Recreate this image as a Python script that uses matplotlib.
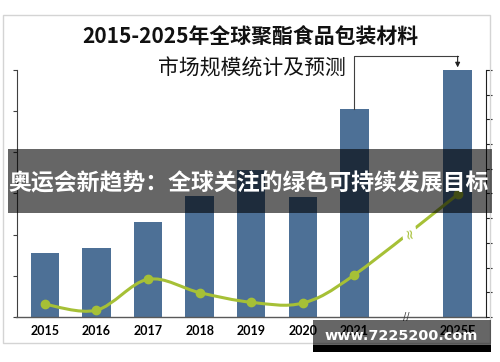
import matplotlib
matplotlib.use('agg')
import matplotlib.pyplot as plt
import numpy as np
from matplotlib.path import Path
from matplotlib.patches import PathPatch, Rectangle

plt.rcParams['font.family'] = ['Noto Sans CJK SC', 'DejaVu Sans']

# Data (axes carry no value labels)
years = ['2015', '2016', '2017', '2018', '2019', '2020', '2021', '2025E']
market = [1.56, 1.67, 2.30, 2.93, 3.58, 2.92, 5.06, 5.99]    # bars, left axis 0-6
growth = [0.52, 0.28, 1.53, 0.99, 0.60, 0.57, 1.71, 4.96]    # line, right axis 0-10

title_1 = '2015-2025年全球聚酯食品包装材料'
title_2 = '市场规模统计及预测'
banner = '奥运会新趋势：全球关注的绿色可持续发展目标'
watermark = 'www.7225200.com'

BAR_COLOR = '#4d7096'
LINE_COLOR = '#a6c036'

# one empty slot before the forecast year (axis break)
xpos = np.arange(len(years), dtype=float)
xpos[-1] += 1

fig = plt.figure(figsize=(5, 3.62), dpi=100)
ax = fig.add_axes([0.033, 0.124, 0.938, 0.683])

ax.bar(xpos, market, width=0.55, color=BAR_COLOR, zorder=2)
ax.set_xlim(-0.55, 8.54)
ax.set_ylim(0, 6)
ax.set_yticks(range(7))
ax.set_yticklabels([])
ax.set_xticks(xpos)
ax.set_xticklabels(years, fontfamily='Lato', fontweight='bold', fontsize=9)
ax.tick_params(axis='x', length=0, pad=6)
ax.tick_params(axis='y', length=3, width=0.8, color='#404040')
for s in ['top', 'right']:
    ax.spines[s].set_visible(False)
ax.spines['left'].set_color('#404040')
ax.spines['bottom'].set_color('#595959')
ax.spines['bottom'].set_linewidth(1.0)

# axis break marks
ax.text(7, 0, '//', ha='center', va='center', fontsize=7, color='#404040',
        fontfamily='DejaVu Sans', clip_on=False, zorder=5)

# arrow from 2021 to 2025
y_top = 6.33
ax.plot([xpos[6], xpos[6], xpos[7]], [market[6], y_top, y_top],
        color='#404040', lw=0.8, clip_on=False, zorder=3)
ax.annotate('', xy=(xpos[7], market[7] + 0.07), xytext=(xpos[7], y_top),
            arrowprops=dict(arrowstyle='-|>', color='#202020', lw=0.8,
                            mutation_scale=7, shrinkA=0, shrinkB=0),
            annotation_clip=False)

# growth line on right axis, smoothed with bezier segments
ax2 = ax.twinx()
ax2.set_ylim(0, 10)
ax2.set_yticks(range(11))
ax2.set_yticklabels([])
ax2.tick_params(axis='y', length=4, width=0.8, color='#202020')
for s in ['top', 'left', 'bottom']:
    ax2.spines[s].set_visible(False)
ax2.spines['right'].set_color('#202020')

pts = np.column_stack([xpos, growth])
verts = [pts[0]]
codes = [Path.MOVETO]
n = len(pts)
for i in range(n - 1):
    prev = pts[i - 1] if i > 0 else pts[i]
    nxt = pts[i + 2] if i + 2 < n else pts[i + 1]
    c1 = pts[i] + (pts[i + 1] - prev) / 6
    c2 = pts[i + 1] - (nxt - pts[i]) / 6
    verts += [c1, c2, pts[i + 1]]
    codes += [Path.CURVE4] * 3
    if i == n - 2:
        mid = 0.125 * pts[i] + 0.375 * c1 + 0.375 * c2 + 0.125 * pts[i + 1]
ax2.add_patch(PathPatch(Path(verts, codes), facecolor='none',
                        edgecolor=LINE_COLOR, lw=2.2, capstyle='round', zorder=3))
ax2.plot(xpos, growth, 'o', color=LINE_COLOR, markersize=6, zorder=4)
ax2.text(mid[0], mid[1], '≈', rotation=100, ha='center', va='center',
         fontsize=10, color=LINE_COLOR, fontfamily='DejaVu Sans',
         bbox=dict(facecolor='white', edgecolor='none', pad=0.2), zorder=5)

# titles
fig.text(0.501, 0.898, title_1, ha='center', va='center', fontsize=15,
         fontweight='bold', color='#111111')
fig.text(0.504, 0.810, title_2, ha='center', va='center', fontsize=15,
         color='#111111')

# outer frame
fig.add_artist(Rectangle((0.006, 0.0525), 0.974, 0.906, transform=fig.transFigure,
                         facecolor='none', edgecolor='#d4d4d4', lw=1, zorder=1))

# banner overlay
fig.add_artist(Rectangle((0.016, 0.4116), 0.968, 0.1768, transform=fig.transFigure,
                         facecolor='black', alpha=0.6, edgecolor='none', zorder=10))
fig.text(0.498, 0.4917, banner, ha='center', va='center', fontsize=16.5,
         fontweight='bold', color='white', zorder=11)

# watermark box
fig.add_artist(Rectangle((0.626, 0.047), 0.356, 0.069, transform=fig.transFigure,
                         facecolor='black', alpha=0.6, edgecolor='none', zorder=10))
fig.add_artist(Rectangle((0.626, 0.027), 0.356, 0.020, transform=fig.transFigure,
                         facecolor='black', edgecolor='none', zorder=10))
fig.text(0.802, 0.072, watermark, ha='center', va='center', fontsize=10.4,
         fontweight='bold', color='white', fontfamily='DejaVu Sans', zorder=11)

plt.savefig('out.png', dpi=100)
